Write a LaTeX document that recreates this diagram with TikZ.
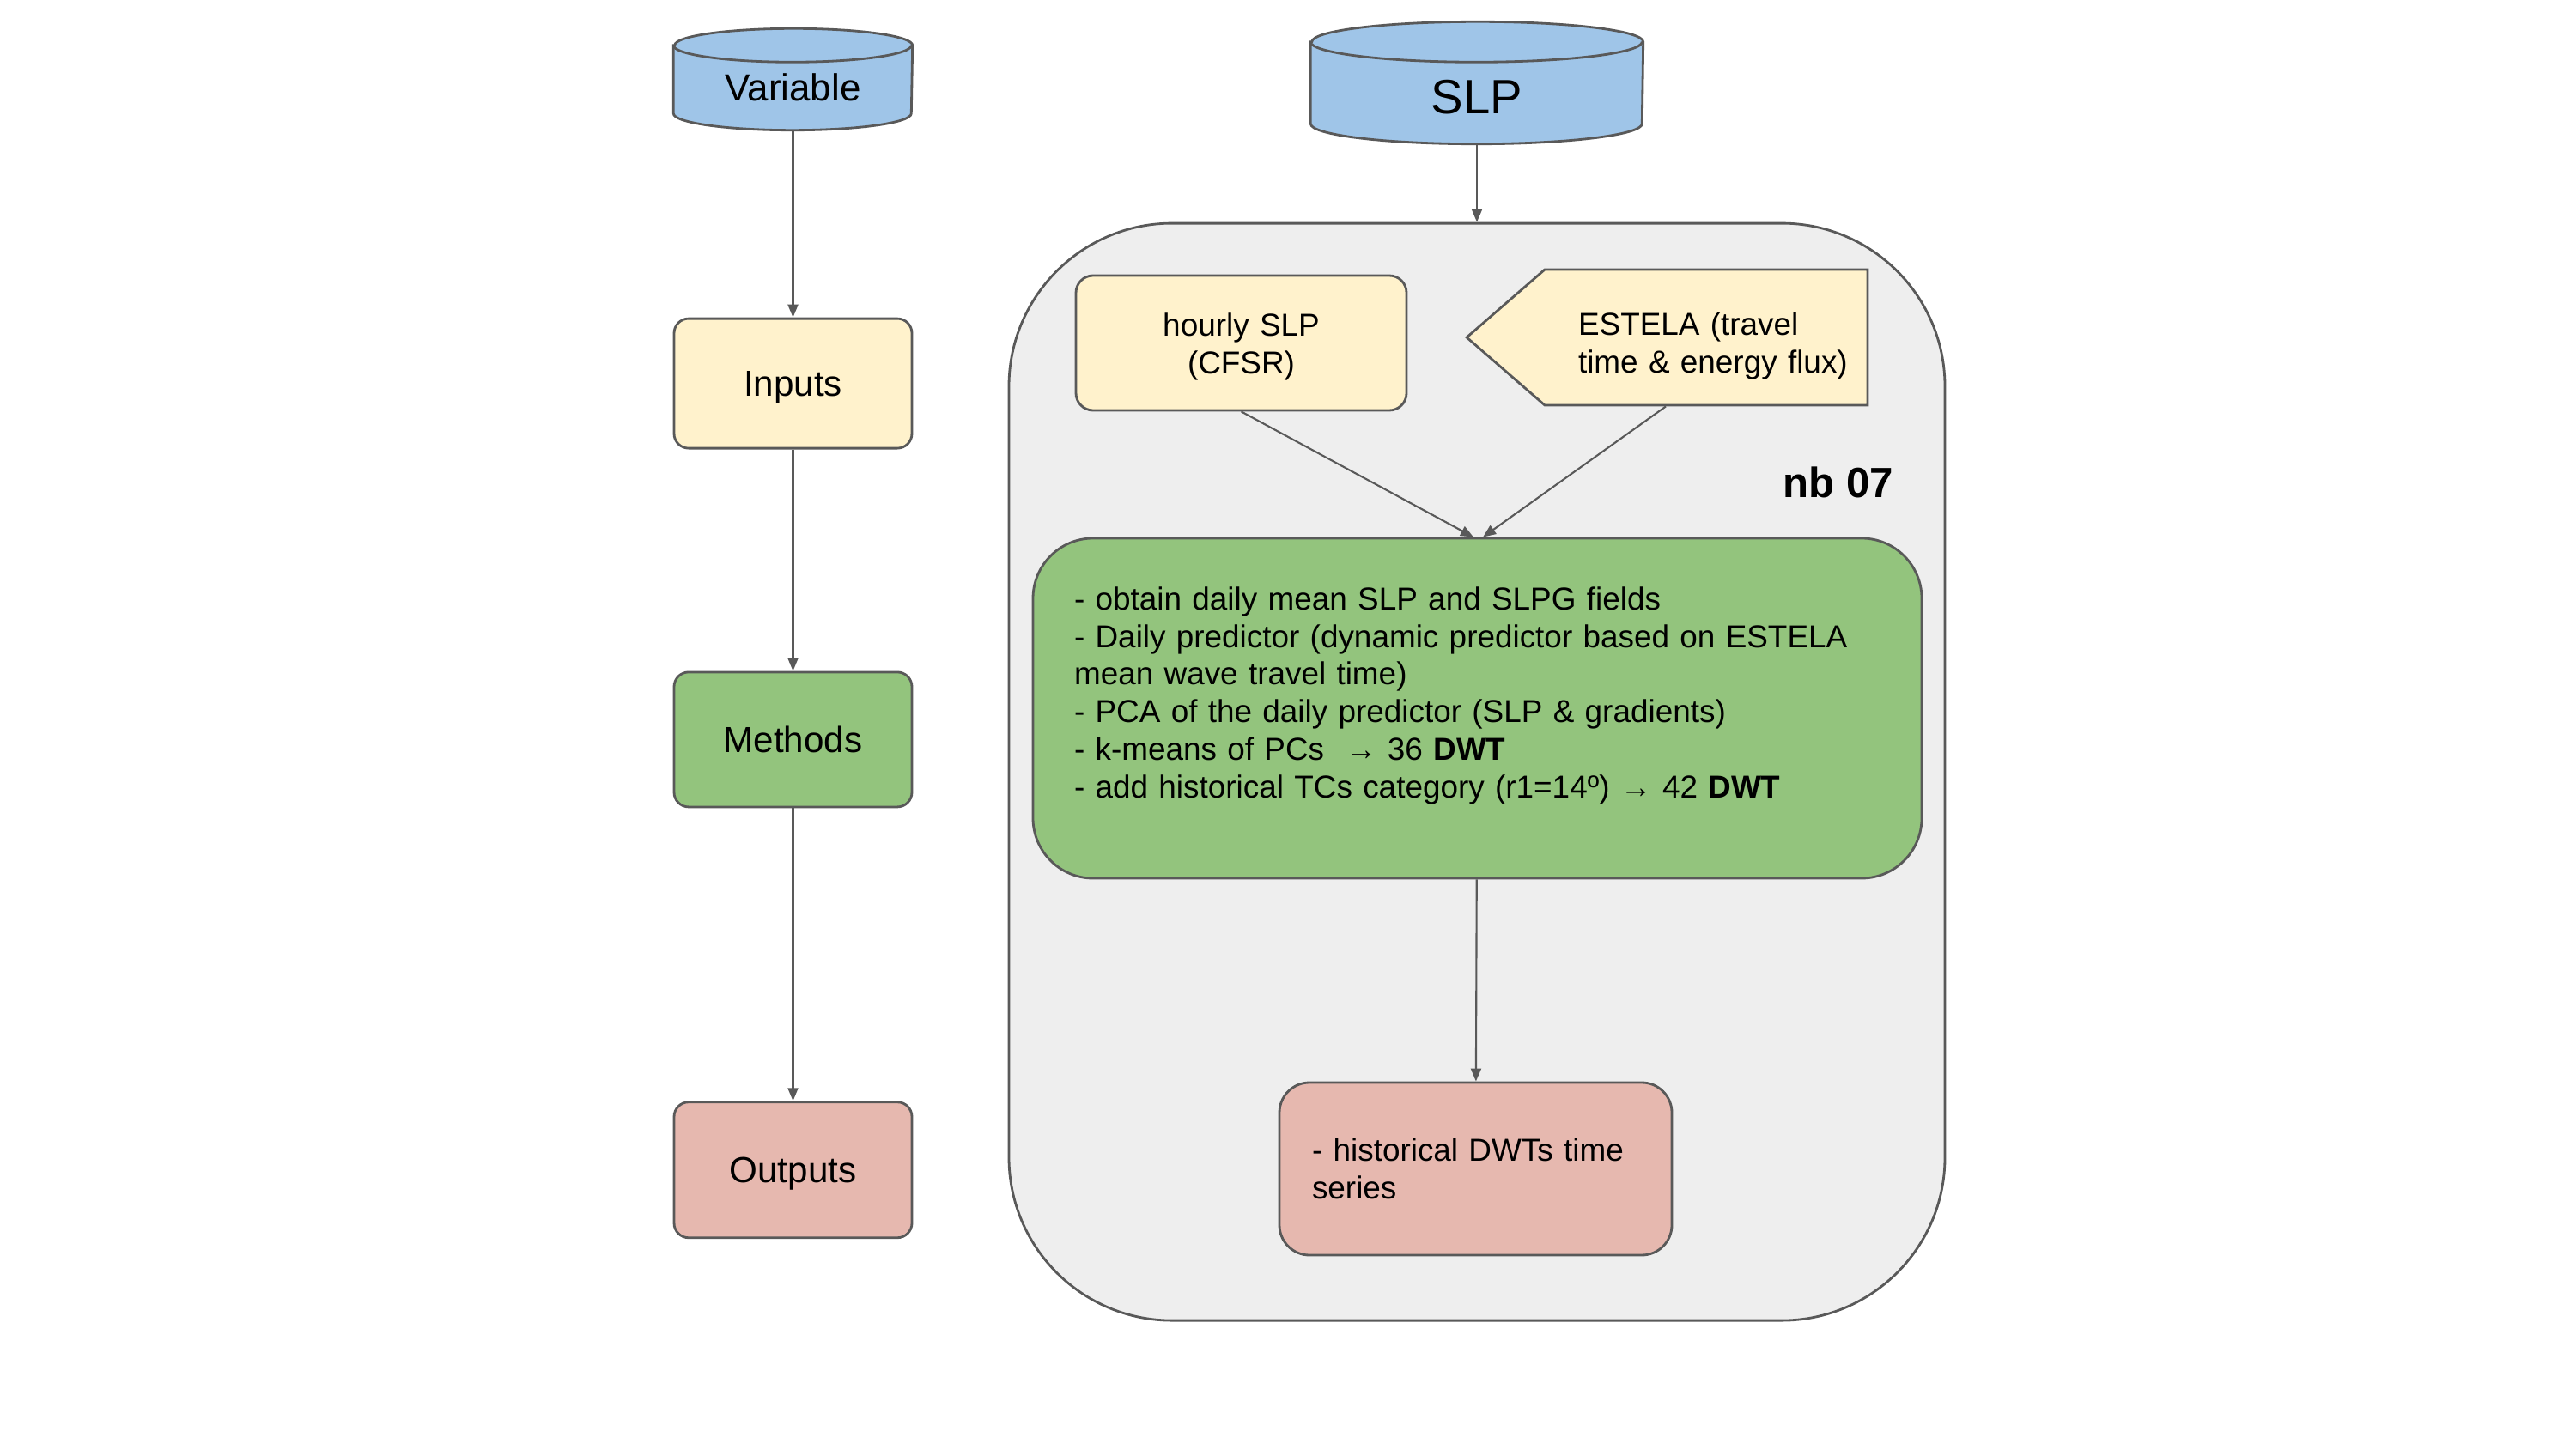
\documentclass[tikz,border=0pt]{standalone}
\usepackage{fontspec}
\setmainfont{Liberation Sans}
\usetikzlibrary{arrows.meta,positioning,calc,shapes.symbols,backgrounds}
\definecolor{dbblue}{HTML}{9FC5E8}
\definecolor{srcyellow}{HTML}{FFF2CC}
\definecolor{methgreen}{HTML}{93C47D}
\definecolor{outpink}{HTML}{E6B8AF}
\definecolor{groupgrey}{HTML}{EEEEEE}
\definecolor{edgegrey}{HTML}{595959}
\tikzset{
  basebox/.style={draw=edgegrey, line width=0.8pt, rounded corners=0.17cm, align=center,
    minimum width=2.77cm, font=\fontsize{12}{14}\selectfont},
  inbox/.style={basebox, fill=srcyellow},
  methbox/.style={basebox, fill=methgreen},
  outbox/.style={basebox, fill=outpink},
  tagline/.style={text height=10.9pt, text depth=2.5pt},
  dbnode/.style={inner sep=0pt, align=center},
  dbcyl/.style={draw=edgegrey, line width=0.8pt, fill=dbblue},
  groupbox/.style={draw=edgegrey, line width=0.8pt, fill=groupgrey, rounded corners=1.9cm,
    minimum width=10.9cm, minimum height=12.78cm},
  txt/.style={font=\fontsize{10.5}{12.5}\selectfont},
  arr/.style={-{Triangle[length=1.5mm, width=1.2mm]}, line width=0.6pt, draw=edgegrey}
}
\begin{document}
\begin{tikzpicture}
  \useasboundingbox (0,0) rectangle (30,16.88);
  % left column: legend
  \node[dbnode, minimum width=2.77cm, minimum height=0.975cm, font=\fontsize{12.5}{15}\selectfont] (var) at (9.235,15.8575) {Variable};
  \node[inbox, tagline, minimum height=1.51cm, below=2.18cm of var] (inputs) {Inputs};
  \node[methbox, tagline, minimum height=1.57cm, below=2.58cm of inputs] (methods) {Methods};
  \node[outbox, tagline, minimum height=1.58cm, below=3.41cm of methods] (outputs) {Outputs};
  % right column: notebook 07
  \node[dbnode, minimum width=3.86cm, minimum height=1.175cm, text height=0.48cm, text depth=0pt, font=\fontsize{16}{19}\selectfont] (slp) at (17.2,15.7975) {SLP};
  \node[groupbox, below=0.91cm of slp] (nb) {};
  \node[inbox, txt, text width=3.45cm, inner xsep=0.2cm, text height=0.35cm, minimum height=1.57cm, rounded corners=0.2cm] (hourly) at (14.455,12.885) {hourly SLP\\(CFSR)};
  \node[inbox, txt, shape=signal, signal to=west, signal pointer angle=82, sharp corners,
    text width=2.98cm, align=left, inner xsep=0.39cm, text height=0.47cm,
    minimum width=0pt, minimum height=1.58cm] (estela) at (19.87,12.95) {\mbox{ESTELA (travel}\\\mbox{time \& energy flux)}};
  \node[font=\bfseries\fontsize{14}{16}\selectfont] (nblabel) at (21.41,11.26) {nb 07};
  \node[methbox, txt, text width=9.39cm, align=left, inner xsep=0.48cm, minimum height=3.96cm, rounded corners=0.7cm] (steps) at (17.205,8.63) {- obtain daily mean SLP and SLPG fields\\
    - Daily predictor (dynamic predictor based on ESTELA\\
    mean wave travel time)\\
    - PCA of the daily predictor (SLP \& gradients)\\
    - k-means of PCs\ \ → 36 \textbf{DWT}\\
    - add historical TCs category (r1=14º) → 42 \textbf{DWT}\\[-0.07cm]\mbox{}};
  \node[outbox, txt, text width=3.81cm, align=left, inner xsep=0.38cm, minimum height=2.01cm, rounded corners=0.35cm] (dwts) at (17.185,3.265) {- historical DWTs time\\series};
  % cylinders behind the data nodes
  \begin{scope}[on background layer]
    \foreach \db/\rx/\ry in {var/1.385cm/0.195cm, slp/1.93cm/0.235cm}{
      \path[dbcyl] (\db.north west) -- ([yshift=\ry]\db.south west)
        arc[start angle=180, end angle=360, x radius=\rx, y radius=\ry]
        -- (\db.north east)
        arc[start angle=0, end angle=180, x radius=\rx, y radius=\ry] -- cycle;
      \draw[dbcyl, fill=none] (\db.north west)
        arc[start angle=180, end angle=360, x radius=\rx, y radius=\ry];
    }
  \end{scope}
  \draw[arr] (var) -- (inputs);
  \draw[arr] (inputs) -- (methods);
  \draw[arr] (methods) -- (outputs);
  \draw[arr] (slp.south) -- (nb.north);
  \draw[arr] (hourly.south) -- ([xshift=-0.045cm]steps.north);
  \draw[arr] ([xshift=-0.47cm]estela.south) -- ([xshift=0.065cm]steps.north);
  \draw[arr] (steps) -- (dwts);
\end{tikzpicture}
\end{document}
